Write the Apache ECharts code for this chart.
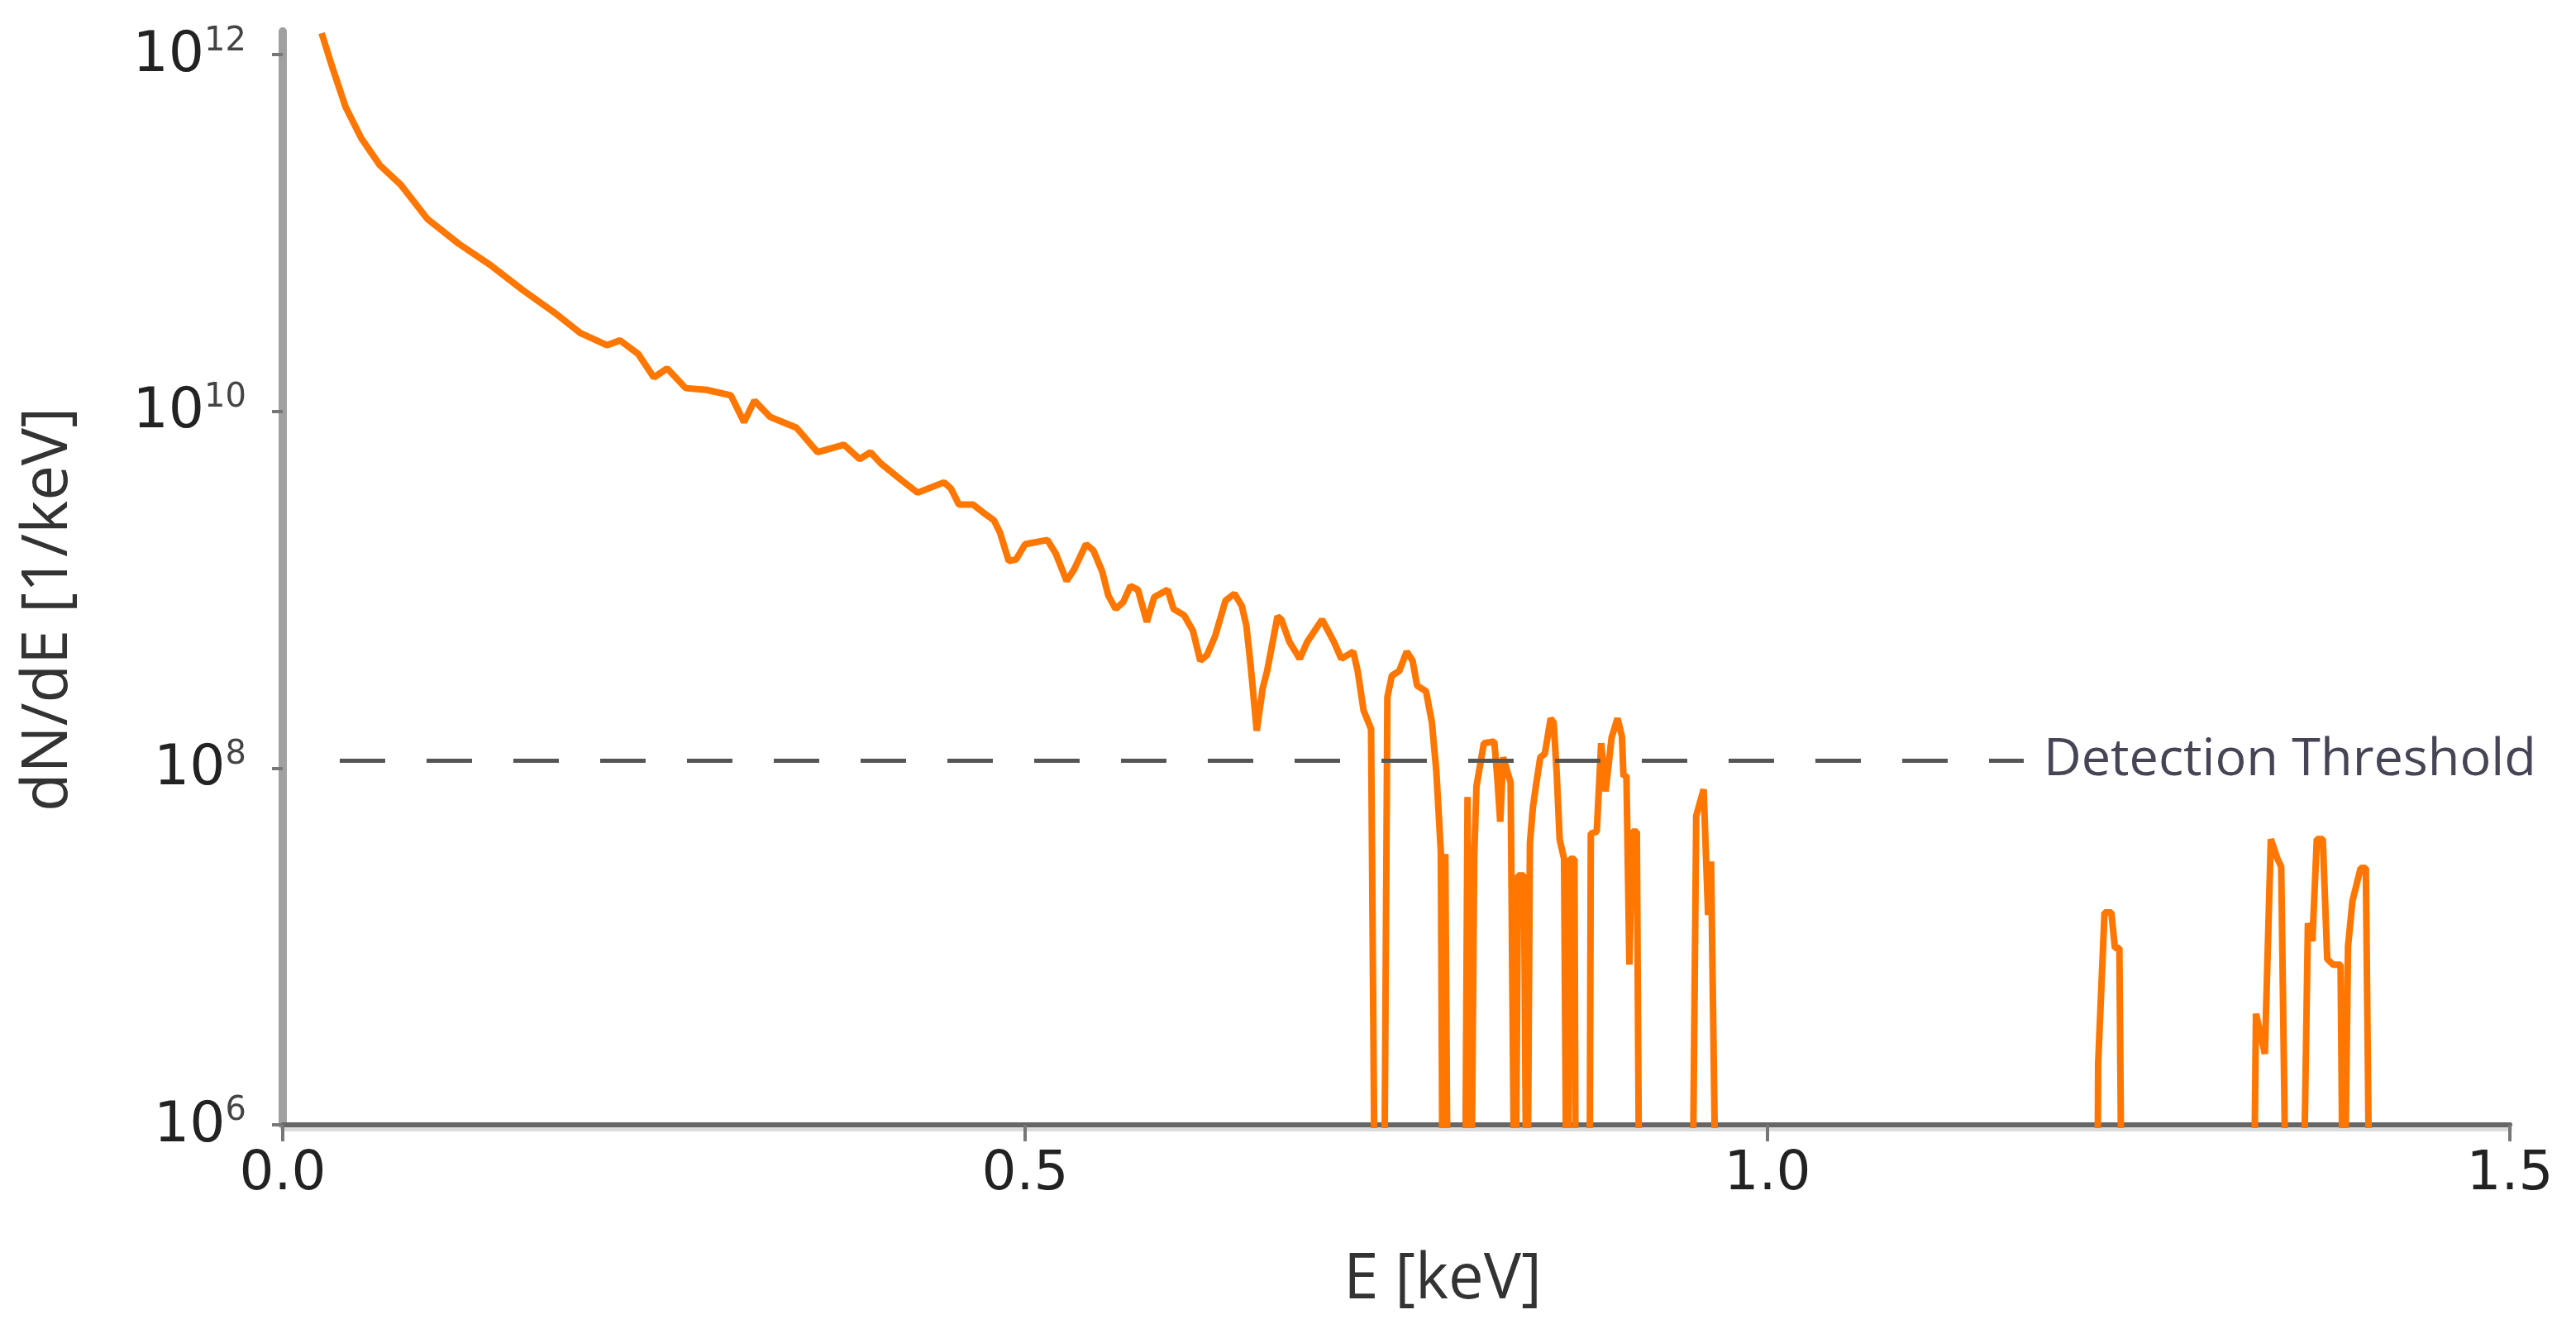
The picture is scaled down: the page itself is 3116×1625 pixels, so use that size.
<!DOCTYPE html>
<html>
<head>
<meta charset="utf-8">
<title>dN/dE spectrum</title>
<script src="https://cdn.jsdelivr.net/npm/echarts@6/dist/echarts.min.js"></script>
<style>
  html, body { margin: 0; padding: 0; background: #fff; }
  #chart { width: 3116px; height: 1625px; }
</style>
</head>
<body>
<div id="chart"></div>
<script>
// energy in keV
const energy = [
  0.0262, 0.0334, 0.0423, 0.0529, 0.0654, 0.0796, 0.0974, 0.1186, 0.140, 0.1615,
  0.1826, 0.2004, 0.2183, 0.2272, 0.2394, 0.250, 0.2589, 0.2714, 0.2856, 0.3018,
  0.3107, 0.3177, 0.3283, 0.346, 0.3602, 0.378, 0.3886, 0.3959, 0.4029, 0.417,
  0.4276, 0.4454, 0.450, 0.4555, 0.465, 0.472, 0.479, 0.483, 0.489, 0.494,
  0.500, 0.515, 0.5206, 0.528, 0.533, 0.541, 0.546, 0.552, 0.556, 0.561,
  0.566, 0.571, 0.576, 0.582, 0.587, 0.596, 0.600, 0.607, 0.613, 0.618,
  0.6225, 0.628, 0.635, 0.641, 0.646, 0.649, 0.652, 0.656, 0.660, 0.663,
  0.670, 0.6726, 0.678, 0.685, 0.690, 0.700, 0.708, 0.713, 0.721, 0.724,
  0.728, 0.733, 0.736, 0.7415, 0.744, 0.747, 0.752, 0.757, 0.761, 0.764,
  0.770, 0.774, 0.777, 0.780, 0.7815, 0.783, 0.785, 0.796, 0.798, 0.800,
  0.8025, 0.804, 0.809, 0.816, 0.818, 0.820, 0.822, 0.827, 0.830, 0.832,
  0.836, 0.838, 0.840, 0.842, 0.844, 0.847, 0.850, 0.854, 0.856, 0.858,
  0.860, 0.863, 0.865, 0.867, 0.870, 0.871, 0.880, 0.881, 0.885, 0.888,
  0.891, 0.895, 0.899, 0.902, 0.903, 0.905, 0.907, 0.909, 0.912, 0.914,
  0.949, 0.952, 0.957, 0.960, 0.962, 0.966,
  1.222, 1.2227, 1.227, 1.2316, 1.234, 1.237, 1.239,
  1.327, 1.329, 1.335, 1.339, 1.3435, 1.346, 1.350,
  1.360, 1.364, 1.367, 1.370, 1.374, 1.377, 1.381, 1.386, 1.388, 1.391,
  1.394, 1.3995, 1.403, 1.406
]

// dN/dE in 1/keV (1e5 = empty bin, below the axis floor)
const dNdE = [
  1.32e12, 8.5e11, 5.1e11, 3.4e11, 2.4e11, 1.86e11, 1.2e11, 8.7e10, 6.6e10, 4.8e10,
  3.6e10, 2.75e10, 2.35e10, 2.5e10, 2.1e10, 1.55e10, 1.74e10, 1.35e10, 1.32e10, 1.23e10,
  8.7e9, 1.15e10, 9.3e9, 8.1e9, 5.9e9, 6.5e9, 5.4e9, 5.9e9, 5.1e9, 4.1e9,
  3.5e9, 4.0e9, 3.7e9, 3.0e9, 3.0e9, 2.7e9, 2.45e9, 2.1e9, 1.45e9, 1.48e9,
  1.8e9, 1.9e9, 1.6e9, 1.12e9, 1.3e9, 1.8e9, 1.66e9, 1.26e9, 9.3e8, 7.8e8,
  8.5e8, 1.05e9, 1.0e9, 6.6e8, 9.1e8, 1.0e9, 7.8e8, 7.2e8, 5.9e8, 4.0e8,
  4.3e8, 5.5e8, 8.7e8, 9.5e8, 8.1e8, 6.3e8, 3.7e8, 1.62e8, 2.8e8, 3.5e8,
  7.1e8, 6.8e8, 5.1e8, 4.1e8, 5.1e8, 6.8e8, 5.1e8, 4.1e8, 4.5e8, 3.5e8,
  2.1e8, 1.66e8, 1e5, 1e5, 2.5e8, 3.3e8, 3.5e8, 4.5e8, 4.0e8, 2.9e8,
  2.7e8, 1.8e8, 9.5e7, 3.4e7, 1e5, 3.3e7, 1e5, 1e5, 6.9e7, 1e5,
  3.2e7, 7.9e7, 1.38e8, 1.41e8, 8.9e7, 5.0e7, 1.15e8, 8.3e7, 1e5, 2.5e7,
  2.5e7, 1e5, 3.8e7, 6.0e7, 7.9e7, 1.15e8, 1.2e8, 1.9e8, 1.8e8, 9.5e7,
  4.0e7, 3.1e7, 1e5, 3.1e7, 3.1e7, 1e5, 1e5, 4.3e7, 4.4e7, 1.38e8,
  7.4e7, 1.48e8, 1.9e8, 1.5e8, 9.0e7, 9.1e7, 7.9e6, 4.4e7, 4.4e7, 1e5,
  1e5, 5.4e7, 7.6e7, 1.5e7, 3.0e7, 1e5,
  1e5, 2.2e6, 1.55e7, 1.55e7, 9.8e6, 9.8e6, 1e5,
  1e5, 4.2e6, 2.5e6, 4.0e7, 3.1e7, 2.8e7, 1e5,
  1e5, 1.35e7, 1.07e7, 4.0e7, 4.0e7, 8.5e6, 7.9e6, 7.9e6, 1e5, 1.0e7,
  1.8e7, 2.75e7, 2.75e7, 1e5
]

// detection threshold and the energy span of its dashed line
const thresholdValue = 1.1e8
const thresholdSpan = [0.0384, 1.1726]

const xTicks = [0, 0.5, 1.0, 1.5]
const yTicks = [1e6, 1e8, 1e10, 1e12]

const chart = echarts.init(document.getElementById('chart'))

const tickFont = 'DejaVu Sans'
const nameFont = '"Open Sans", "DejaVu Sans", sans-serif'

const option = {
  animation: false,
  backgroundColor: '#ffffff',
  grid: {
    left: 342,
    right: 80,
    top: 38,
    bottom: 264
  },
  xAxis: {
    type: 'value',
    min: xTicks[0],
    max: xTicks[xTicks.length - 1],
    interval: 0.5,
    name: 'E [keV]',
    nameLocation: 'middle',
    nameGap: 150,
    nameTextStyle: {
      fontFamily: nameFont,
      fontSize: 76,
      color: '#333',
      padding: [0, 0, 0, 112]
    },
    axisLine: {
      lineStyle: {
        color: '#666',
        width: 6,
        shadowColor: '#dcdcdc',
        shadowOffsetY: 5
      }
    },
    axisTick: {
      show: true,
      length: 20,
      lineStyle: { color: '#777', width: 4 }
    },
    axisLabel: {
      fontFamily: tickFont,
      fontSize: 66,
      color: '#222',
      margin: 28,
      formatter: (v) => v.toFixed(1)
    },
    splitLine: { show: false }
  },
  yAxis: {
    type: 'log',
    min: 1e6,
    max: 1.35e12,
    name: 'dN/dE [1/keV]',
    nameLocation: 'middle',
    nameGap: 245,
    nameTextStyle: {
      fontFamily: nameFont,
      fontSize: 76,
      color: '#333',
      padding: [0, 76, 0, 0]
    },
    axisLine: {
      show: true,
      lineStyle: { color: '#a0a0a0', width: 10 }
    },
    axisTick: {
      show: true,
      length: 13,
      customValues: yTicks,
      lineStyle: { color: '#777', width: 4 }
    },
    axisLabel: {
      customValues: yTicks,
      margin: 44,
      formatter: (v) => '{b|10}{s|' + Math.round(Math.log10(v)) + '}',
      rich: {
        b: { fontFamily: tickFont, fontSize: 68, color: '#222', lineHeight: 72, verticalAlign: 'bottom' },
        s: { fontFamily: tickFont, fontSize: 40, color: '#444', lineHeight: 34, verticalAlign: 'top' }
      }
    },
    splitLine: { show: false },
    minorTick: { show: false }
  },
  series: [
    {
      name: 'dN/dE',
      type: 'line',
      showSymbol: false,
      clip: true,
      data: energy.map((e, i) => [e, dNdE[i]]),
      lineStyle: { color: '#ff7700', width: 8 },
      markLine: {
        silent: true,
        symbol: 'none',
        lineStyle: { color: '#555', width: 5, type: [55, 50] },
        label: {
          show: true,
          position: 'end',
          distance: 24,
          formatter: 'Detection Threshold',
          fontFamily: nameFont,
          fontSize: 63,
          color: '#454555'
        },
        data: [
          [
            { coord: [thresholdSpan[0], thresholdValue] },
            { coord: [thresholdSpan[1], thresholdValue] }
          ]
        ]
      }
    }
  ]
}

chart.setOption(option)
</script>
</body>
</html>
